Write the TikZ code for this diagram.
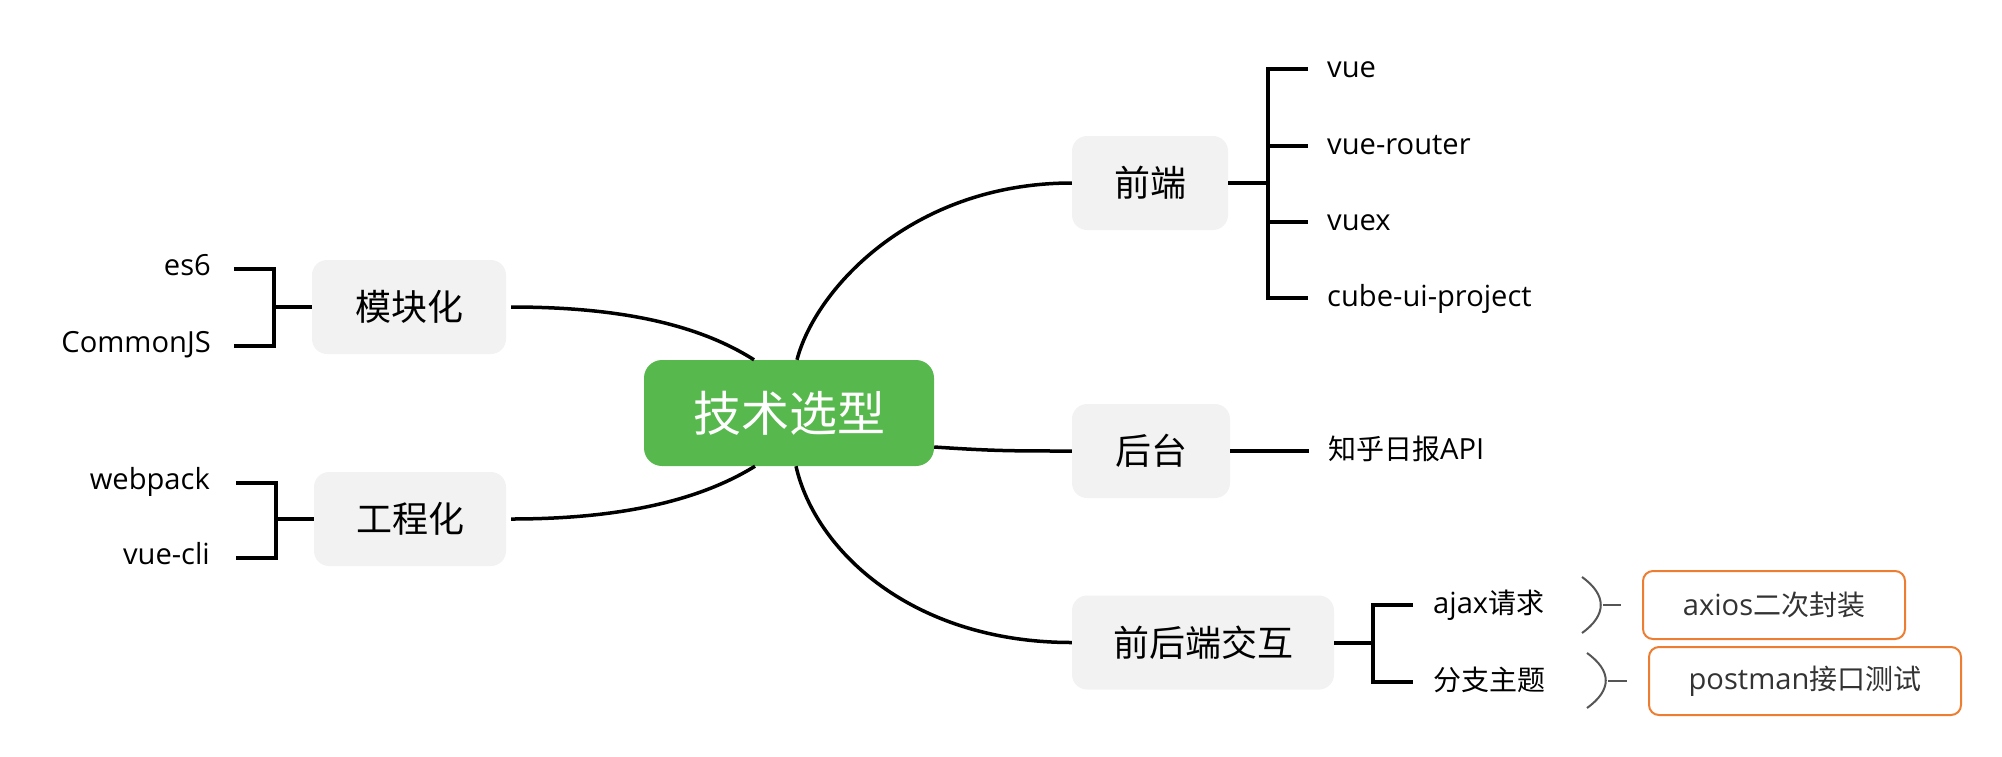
\documentclass[tikz,border=0pt]{standalone}
\usepackage{fontspec}
\setmainfont{Open Sans}[Scale=1.04]
\newfontfamily\cjk{Noto Sans CJK SC}
\definecolor{boxgray}{HTML}{F2F2F2}
\definecolor{rootgreen}{HTML}{57B84D}
\definecolor{notebord}{HTML}{ED7D31}
\definecolor{notetext}{HTML}{333333}
\definecolor{bracegray}{HTML}{555555}
\begin{document}
\begin{tikzpicture}[x=1pt,y=-1pt,
  curve/.style={line width=3.5pt, black},
  br/.style={line width=4pt, black, line join=miter},
  rootbox/.style={rounded corners=18pt, fill=rootgreen, text=white, inner sep=0pt,
    font=\cjk\fontsize{48}{54}\selectfont},
  topic/.style={rounded corners=15pt, fill=boxgray, text=black, inner sep=0pt,
    minimum height=94pt, font=\cjk\fontsize{36}{40}\selectfont},
  leafR/.style={anchor=west, inner sep=0pt, text=black, text height=22pt, text depth=6pt,
    font=\fontsize{28}{32}\selectfont},
  leafL/.style={anchor=east, inner sep=0pt, text=black, text height=19pt, text depth=7pt,
    font=\fontsize{28}{32}\selectfont},
  note/.style={draw=notebord, line width=2pt, rounded corners=10pt, text=notetext, inner sep=0pt,
    minimum height=68pt, font=\fontsize{28}{32}\selectfont},
  brace/.style={line width=2pt, bracegray}
]
\useasboundingbox (0,0) rectangle (2002,756);

% root
\node[rootbox, minimum width=290pt, minimum height=106pt] (root) at (789,413) {技术选型};

% main topics
\node[topic, minimum width=156pt] (qd) at (1150,183) {前端};
\node[topic, minimum width=158pt] (ht) at (1151,451) {后台};
\node[topic, minimum width=262pt] (qj) at (1203,642.5) {前后端交互};
\node[topic, minimum width=194pt] (mk) at (409,307) {模块化};
\node[topic, minimum width=192pt] (gc) at (410,519) {工程化};

% curves from root
\draw[curve] ([xshift=8pt]root.north) .. controls +(18,-70) and +(-160,0) .. (qd.west);
\draw[curve] ([xshift=7pt]root.south) .. controls +(19,84) and +(-160,0) .. (qj.west);
\draw[curve] ([yshift=-34pt]root.east) .. controls +(60,4) and +(-60,0) .. (ht.west);
\draw[curve] ([xshift=5pt]mk.east) .. controls +(110,0) and +(-55,-35) .. ([xshift=-35pt]root.north);
\draw[curve] ([xshift=5pt]gc.east) .. controls +(110,0) and +(-55,34) .. ([xshift=-34pt]root.south);

% front-end leaves
\node[leafR] (vue) at (1327,69) {vue};
\node[leafR] (router) at (1327,146) {vue-router};
\node[leafR] (vuex) at (1327,222) {vuex};
\node[leafR] (cube) at (1327,298) {cube-ui-project};
\draw[br] (qd.east) -- ([xshift=-59pt]vue.west |- qd.east);
\draw[br] ([xshift=-19pt]vue.west) -| ([xshift=-59pt]cube.west) -- ([xshift=-19pt]cube.west);
\draw[br] ([xshift=-59pt]router.west) -- ([xshift=-19pt]router.west);
\draw[br] ([xshift=-59pt]vuex.west) -- ([xshift=-19pt]vuex.west);

% back-end leaf
\node[leafR] (zh) at (1328,451) {{\cjk 知乎日报}API};
\draw[br] (ht.east) -- ([xshift=-19pt]zh.west);

% interaction leaves
\node[leafR] (ajax) at (1433,605) {ajax{\cjk 请求}};
\node[leafR] (fz) at (1433,682) {\cjk 分支主题};
\draw[br] (qj.east) -- ([xshift=-60pt]ajax.west |- qj.east);
\draw[br] ([xshift=-20pt]ajax.west) -| ([xshift=-60pt]fz.west) -- ([xshift=-20pt]fz.west);

% notes
\node[note, minimum width=262pt] (ax) at (1774,605) {axios{\cjk 二次封装}};
\node[note, minimum width=312pt] (pm) at (1805,681) {postman{\cjk 接口测试}};
\draw[brace] ([shift={(-60,-28)}]ax.west) .. controls +(25,18) and +(25,-18) .. ([shift={(-60,28)}]ax.west);
\draw[brace] ([xshift=-39pt]ax.west) -- ([xshift=-21pt]ax.west);
\draw[brace] ([shift={(-61,-28)}]pm.west) .. controls +(25,18) and +(25,-18) .. ([shift={(-61,27)}]pm.west);
\draw[brace] ([xshift=-40pt]pm.west) -- ([xshift=-21pt]pm.west);

% left leaves
\node[leafL] (es6) at (211,269) {es6};
\node[leafL] (cjs) at (211,346) {CommonJS};
\draw[br] (mk.west) -- ([xshift=63pt]es6.east |- mk.west);
\draw[br] ([xshift=23pt]es6.east) -| ([xshift=63pt]cjs.east) -- ([xshift=23pt]cjs.east);

\node[leafL] (wp) at (210,483) {webpack};
\node[leafL] (vc) at (210,558) {vue-cli};
\draw[br] (gc.west) -- ([xshift=66pt]wp.east |- gc.west);
\draw[br] ([xshift=26pt]wp.east) -| ([xshift=66pt]vc.east) -- ([xshift=26pt]vc.east);
\end{tikzpicture}
\end{document}
